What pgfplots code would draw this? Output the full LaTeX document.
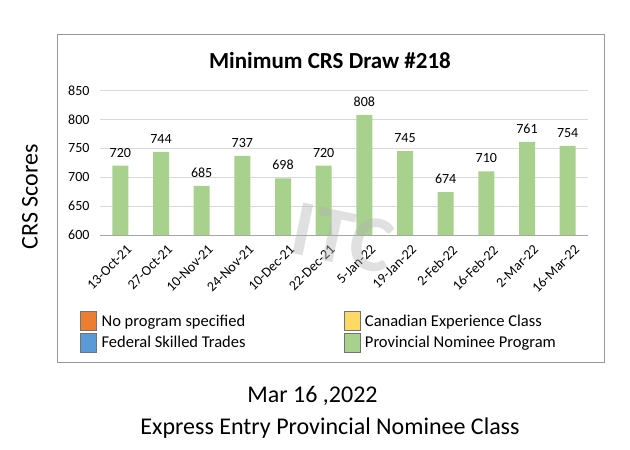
\documentclass[border=0pt]{standalone}
\usepackage{pgfplots}
\pgfplotsset{compat=1.18}
\usepackage{fontspec}
\setmainfont{Carlito}

\definecolor{pnp}{RGB}{169,209,142}
\definecolor{nops}{RGB}{237,125,49}
\definecolor{fst}{RGB}{91,155,213}
\definecolor{cec}{RGB}{255,217,102}

\pgfplotsset{
  sq/.style={legend image code/.code={%
    \draw[fill=#1,draw=black!55] (0pt,-9.5pt) rectangle (16pt,9.5pt);
    \path (19pt,0pt);}}
}

\begin{document}
\begin{tikzpicture}[x=1pt,y=1pt]
  \path[use as bounding box] (0,0) rectangle (630,450);
  % chart frame
  \draw[black!40] (57,416) rectangle (604,88);
  \node[anchor=base, font=\bfseries\fontsize{23}{26}\selectfont] at (330,381.5) {Minimum CRS Draw \#218};
  \node[rotate=90, font=\fontsize{24}{28}\selectfont] at (30,253) {CRS Scores};

  \begin{axis}[
    at={(100pt,215pt)}, anchor=south west,
    width=488pt, height=144.5pt, scale only axis,
    xmin=-0.5, xmax=11.5, ymin=600, ymax=850,
    ytick={600,650,...,850},
    xtick={0,...,11},
    xticklabels={13-Oct-21,27-Oct-21,10-Nov-21,24-Nov-21,10-Dec-21,22-Dec-21,
                 5-Jan-22,19-Jan-22,2-Feb-22,16-Feb-22,2-Mar-22,16-Mar-22},
    xticklabel style={rotate=45, anchor=north east, xshift=1pt, yshift=-7pt,
      font=\fontsize{14}{16}\selectfont},
    yticklabel style={xshift=-7pt, font=\fontsize{14}{16}\selectfont},
    /pgf/number format/assume math mode=true,
    ymajorgrids, grid style={draw=black!15},
    separate axis lines,
    axis x line*=bottom, axis y line*=left,
    x axis line style={draw=black!35},
    y axis line style={draw=none},
    tick style={draw=none},
    legend cell align=left,
    legend style={at={(-0.041,-0.527)}, anchor=north west, draw=none, fill=none,
      inner sep=0pt, font=\fontsize{16.5}{19}\selectfont, row sep=2pt,
      /tikz/every even column/.append style={column sep=96pt}},
    legend columns=2, transpose legend,
  ]
    \addlegendimage{sq=nops}
    \addlegendentry{No program specified}
    \addlegendimage{sq=fst}
    \addlegendentry{Federal Skilled Trades}
    \addlegendimage{sq=cec}
    \addlegendentry{Canadian Experience Class}
    \addlegendimage{sq=pnp}
    \addlegendentry{Provincial Nominee Program}
    \addplot[ybar, bar width=16pt, fill=pnp, draw=none, forget plot,
      nodes near coords,
      nodes near coords style={font=\fontsize{14}{16}\selectfont, yshift=5pt}]
      coordinates {
        (0,720) (1,744) (2,685) (3,737) (4,698) (5,720)
        (6,808) (7,745) (8,674) (9,710) (10,761) (11,754)
      };
  \end{axis}

  % faint watermark
  \node[rotate=-12, text=black!30, opacity=0.4, font=\bfseries\fontsize{80}{80}\selectfont] at (343,212) {ITC};

  \node[anchor=base, font=\fontsize{24}{28}\selectfont] at (312.5,47.5) {Mar 16 ,2022};
  \node[anchor=base, font=\fontsize{24}{28}\selectfont] at (330,15) {Express Entry Provincial Nominee Class};
\end{tikzpicture}
\end{document}
